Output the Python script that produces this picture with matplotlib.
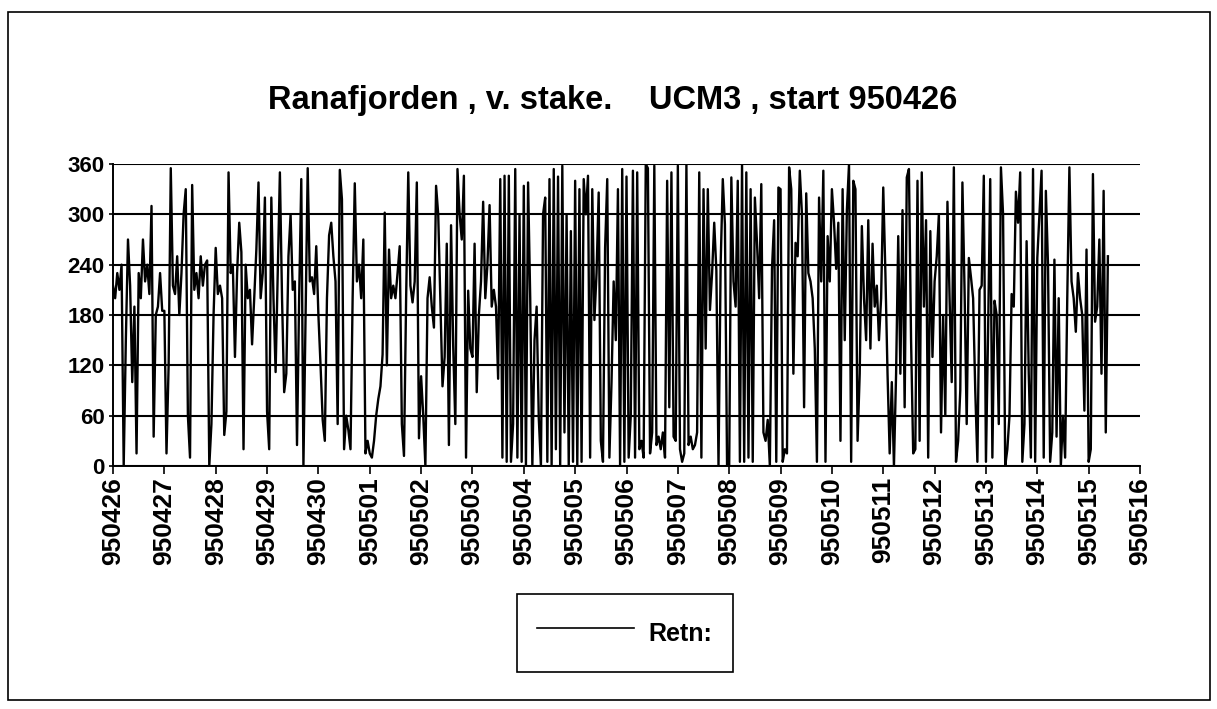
import numpy as np
import matplotlib
matplotlib.use('Agg')
import matplotlib.pyplot as plt
from matplotlib.patches import Rectangle

plt.rcParams['font.family'] = ['Liberation Sans', 'DejaVu Sans']
plt.rcParams['font.weight'] = 'bold'

# hourly current direction (degrees), one list per day from 950426
d0426 = [215, 200, 230, 210, 240, 0, 150, 270, 215, 100, 190, 15, 230, 200, 270, 220, 240, 205, 310, 35, 180, 190, 230, 185]
d0427 = [185, 15, 120, 355, 215, 205, 250, 180, 230, 300, 330, 60, 10, 335, 210, 230, 200, 250, 215, 240, 245, 0, 50, 180]
d0428 = [260, 205, 215, 200, 37, 65, 350, 230, 240, 130, 230, 290, 255, 20, 240, 200, 210, 145, 200, 258, 338, 200, 230, 320]
d0429 = [65, 20, 320, 200, 112, 230, 350, 200, 88, 110, 250, 300, 210, 220, 25, 200, 342, 0, 180, 355, 220, 225, 205, 262]
d0430 = [180, 120, 55, 30, 200, 275, 290, 250, 220, 50, 353, 318, 20, 60, 43, 20, 200, 337, 220, 240, 200, 270, 15, 30]
d0501 = [15, 10, 30, 60, 80, 95, 133, 302, 120, 258, 200, 215, 200, 230, 262, 50, 12, 200, 350, 215, 195, 220, 338, 33]
d0502 = [107, 60, 0, 200, 225, 190, 165, 334, 300, 200, 95, 130, 265, 25, 287, 143, 50, 354, 300, 270, 346, 10, 209, 140]
d0503 = [130, 265, 88, 180, 220, 315, 200, 240, 311, 190, 210, 190, 104, 342, 10, 346, 5, 346, 5, 50, 354, 10, 300, 5]
d0504 = [334, 0, 338, 200, 0, 150, 190, 57, 0, 300, 320, 5, 342, 0, 354, 20, 345, 0, 358, 40, 300, 0, 280, 5]
d0505 = [340, 0, 330, 5, 342, 300, 346, 10, 330, 174, 230, 326, 30, 5, 260, 342, 10, 100, 220, 150, 330, 0, 354, 5]
d0506 = [345, 10, 60, 352, 10, 350, 20, 30, 10, 360, 355, 15, 40, 358, 25, 35, 20, 40, 10, 340, 70, 350, 35, 30]
d0507 = [358, 20, 5, 15, 360, 25, 35, 20, 25, 40, 350, 10, 330, 140, 330, 186, 230, 290, 233, 0, 240, 342, 288, 0]
d0508 = [0, 344, 220, 190, 340, 5, 360, 5, 350, 10, 330, 5, 320, 266, 200, 336, 40, 30, 55, 0, 235, 293, 5, 332]
d0509 = [330, 5, 20, 15, 356, 330, 110, 266, 250, 352, 300, 70, 325, 230, 220, 200, 140, 5, 320, 220, 352, 5, 274, 220]
d0510 = [330, 290, 235, 290, 30, 330, 150, 305, 360, 5, 340, 330, 30, 110, 286, 200, 150, 293, 140, 265, 190, 215, 150, 200]
d0511 = [332, 230, 110, 15, 100, 0, 110, 274, 110, 305, 70, 344, 354, 150, 15, 20, 340, 30, 350, 190, 293, 10, 280, 130]
d0512 = [220, 250, 300, 40, 180, 60, 315, 200, 100, 356, 5, 30, 90, 338, 210, 50, 248, 225, 200, 90, 5, 210, 215, 346]
d0513 = [5, 160, 342, 10, 197, 180, 50, 356, 300, 0, 20, 60, 205, 190, 327, 290, 350, 5, 50, 268, 110, 10, 354, 5]
d0514 = [248, 300, 352, 10, 328, 240, 5, 40, 246, 35, 200, 0, 60, 10, 200, 356, 220, 200, 160, 230, 200, 180, 66, 258]
d0515 = [5, 20, 348, 172, 190, 270, 110, 328, 40, 250]

days = [d0426, d0427, d0428, d0429, d0430, d0501, d0502, d0503, d0504, d0505,
        d0506, d0507, d0508, d0509, d0510, d0511, d0512, d0513, d0514, d0515]

date_labels = ['950426', '950427', '950428', '950429', '950430', '950501', '950502',
               '950503', '950504', '950505', '950506', '950507', '950508', '950509',
               '950510', '950511', '950512', '950513', '950514', '950515', '950516']

retn = np.concatenate([np.array(d, dtype=float) for d in days])
t = np.arange(len(retn)) / 24.0

fig = plt.figure(figsize=(12.17, 7.09), dpi=100)
ax = fig.add_axes([113/1217, 1 - 466/709, (1140-113)/1217, (466-164)/709])

ax.plot(t, retn, color='black', linewidth=1.7, label='Retn:')

ax.set_xlim(0, 20)
ax.set_ylim(0, 360)
ax.set_yticks(np.arange(0, 361, 60))
ax.set_xticks(np.arange(21))
ax.set_xticklabels(date_labels, rotation=90, fontsize=19, fontweight='bold')
ax.tick_params(axis='y', labelsize=16, direction='out', length=3, width=1.2, pad=3)
ax.tick_params(axis='x', direction='out', length=6, width=1.2, pad=2)
for lab in ax.get_yticklabels():
    lab.set_fontweight('bold')

ax.grid(axis='y', color='black', linewidth=1.5)
ax.set_axisbelow(False)
ax.spines['top'].set_visible(False)
ax.spines['right'].set_visible(False)
ax.spines['left'].set_linewidth(1.4)
ax.spines['bottom'].set_linewidth(1.4)

fig.text(0.503, 1 - 100/709, 'Ranafjorden , v. stake.    UCM3 , start 950426',
         ha='center', va='center', fontsize=23.5, fontweight='bold')

leg = fig.legend(loc='center', bbox_to_anchor=(625/1217, 1 - 633/709), fontsize=18,
                 handlelength=3.85, handleheight=1.84, handletextpad=0.6, borderpad=0.82,
                 fancybox=False, framealpha=1, edgecolor='black')
leg.get_frame().set_linewidth(1.2)
for line in leg.get_lines():
    line.set_linewidth(1.2)

fig.patches.append(Rectangle((8/1217, 1 - 700/709), 1202/1217, 688/709,
                             transform=fig.transFigure, fill=False,
                             edgecolor='black', linewidth=1.2))

fig.savefig('out.png', dpi=100)
